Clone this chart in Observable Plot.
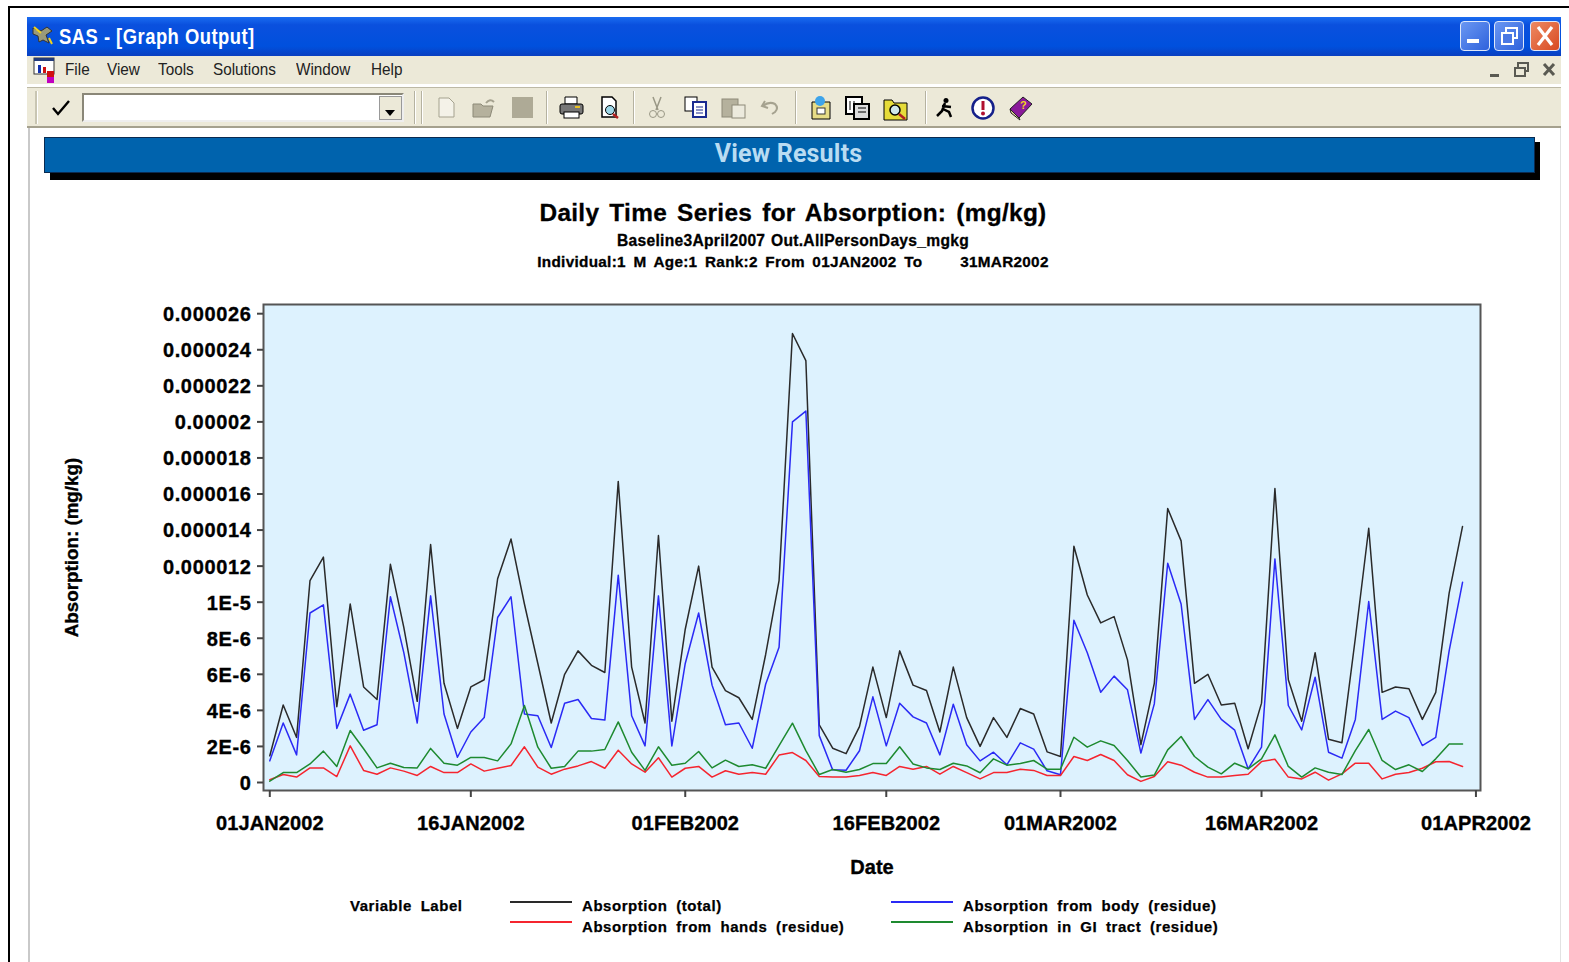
<!DOCTYPE html>
<html><head><meta charset="utf-8">
<script src="https://cdn.jsdelivr.net/npm/d3@7"></script>
<script src="https://cdn.jsdelivr.net/npm/@observablehq/plot@0.6"></script>
<style>
html,body{margin:0;padding:0;background:#fff;width:1569px;height:962px;overflow:hidden}
#page{position:relative;width:1569px;height:962px;overflow:hidden;font-family:"Liberation Sans",Arial,sans-serif}
#page>*{position:absolute}
.t{white-space:pre;color:#000;font-weight:700;letter-spacing:.2px}
.menu{font:17px "Liberation Sans";color:#222;top:60px;white-space:pre;transform:scaleX(.9);transform-origin:left top}
#chart{left:0;top:190px}
#chart text{fill:#000;stroke:#000;stroke-width:.35px}
#chart g[aria-label="y-axis tick label"] text{letter-spacing:.65px;translate:0 1px}
#chart g[aria-label="x-axis tick label"] text{letter-spacing:.1px}
#chart g[aria-label="y-axis label"] text{font-size:18.8px}
</style></head><body>
<div id="page"></div>
<script>
const startDate = "2002-01-01";
const total = [1.48,4.3,2.5,11.2,12.5,4.2,9.9,5.3,4.6,12.1,8.6,4.5,13.2,5.5,3.0,5.3,5.7,11.3,13.5,9.9,6.6,3.3,6.0,7.3,6.5,6.1,16.7,6.4,3.3,13.7,3.4,8.5,12.0,6.4,5.1,4.7,3.5,7.1,11.2,24.9,23.4,3.2,1.9,1.6,3.1,6.4,3.6,7.3,5.4,5.1,2.8,6.4,3.6,2.0,3.6,2.5,4.1,3.8,1.7,1.44,13.1,10.4,8.85,9.2,6.8,2.1,5.5,15.2,13.4,5.5,6.0,4.3,4.4,1.87,4.4,16.3,5.7,3.4,7.2,2.4,2.2,8.0,14.1,5.0,5.3,5.2,3.5,5.0,10.5,14.2];
const body = [1.2,3.3,1.53,9.4,9.85,3.0,4.9,2.9,3.2,10.3,7.2,3.3,10.35,3.8,1.4,2.8,3.6,9.15,10.3,3.8,3.7,1.94,4.4,4.6,3.55,3.46,11.5,3.7,2.03,10.35,2.03,6.6,9.4,5.4,3.2,3.3,1.9,5.45,7.5,20.0,20.6,2.6,0.7,0.68,1.76,4.75,2.03,4.4,3.64,3.3,1.53,4.34,2.09,1.2,1.68,0.98,2.2,1.85,0.65,0.43,9.0,7.2,5.0,5.9,5.14,1.63,4.36,12.16,9.9,3.5,4.6,3.5,2.9,0.76,1.96,12.4,4.27,2.92,5.84,1.68,1.35,3.5,10.04,3.5,3.96,3.6,2.05,2.5,7.3,11.1];
const hands = [0.15,0.44,0.3,0.81,0.81,0.33,2.03,0.67,0.46,0.81,0.63,0.39,0.89,0.55,0.55,1.03,0.63,0.79,0.94,1.98,0.85,0.46,0.74,0.92,1.16,0.79,1.79,1.03,0.57,1.37,0.3,0.79,0.89,0.3,0.65,0.46,0.55,0.46,1.52,1.66,1.22,0.33,0.31,0.31,0.39,0.55,0.39,0.89,0.74,0.89,0.46,0.89,0.55,0.2,0.55,0.55,0.74,0.67,0.39,0.39,1.44,1.22,1.55,1.22,0.43,0.06,0.33,1.15,0.96,0.57,0.3,0.3,0.39,0.46,1.16,1.29,0.3,0.2,0.57,0.13,0.48,1.07,1.07,0.2,0.46,0.55,0.79,1.15,1.16,0.89];
const gi = [0.07,0.55,0.55,1.03,1.74,0.89,2.88,1.87,0.81,1.07,0.83,0.81,1.89,1.07,0.96,1.39,1.39,1.2,2.14,4.27,1.96,0.79,0.89,1.74,1.74,1.83,3.36,1.68,0.67,1.98,0.96,1.07,1.72,0.81,1.24,0.89,0.98,0.79,2.05,3.29,1.77,0.44,0.72,0.57,0.72,1.05,1.05,1.98,1.03,0.81,0.72,1.07,0.92,0.54,1.31,0.96,1.05,1.22,0.74,0.74,2.51,1.96,2.31,2.05,1.22,0.3,0.41,1.81,2.55,1.44,0.85,0.48,1.07,0.76,1.31,2.64,0.89,0.3,0.81,0.57,0.44,1.77,2.94,1.22,0.72,0.98,0.61,1.31,2.14,2.14];
const seriesNames = ["Absorption (total)","Absorption from body (residue)","Absorption from hands (residue)","Absorption in GI tract (residue)"];
const seriesColors = ["#2a2a2a","#2a2af5","#f5252f","#1e8a30"];
const yTickValues = [0,2,4,6,8,10,12,14,16,18,20,22,24,26];
const yTickLabels = ["0","2E-6","4E-6","6E-6","8E-6","1E-5","0.000012","0.000014","0.000016","0.000018","0.00002","0.000022","0.000024","0.000026"];
const xTickDates = ["2002-01-01","2002-01-16","2002-02-01","2002-02-16","2002-03-01","2002-03-16","2002-04-01"];
const xTickLabels = ["01JAN2002","16JAN2002","01FEB2002","16FEB2002","01MAR2002","16MAR2002","01APR2002"];
const menus = [["File",65],["View",107],["Tools",158],["Solutions",213],["Window",296],["Help",371]];

const DAY = 864e5, t0 = Date.parse(startDate);
const rows = [total,body,hands,gi].flatMap((vals,s)=>vals.map((v,i)=>({date:new Date(t0+i*DAY),value:v*1e-6,series:seriesNames[s]})));
const xDates = xTickDates.map(d=>new Date(d));

const plot = Plot.plot({
  width:1569, height:772,
  marginLeft:263, marginRight:89, marginTop:114, marginBottom:172,
  style:{fontFamily:'"Liberation Sans",Arial,sans-serif',fontSize:"20px",fontWeight:700,background:"transparent",overflow:"visible"},
  x:{type:"utc",domain:[new Date(t0-0.47*DAY),new Date(t0+90.34*DAY)]},
  y:{domain:[-0.444e-6,26.51e-6]},
  color:{domain:seriesNames,range:seriesColors},
  marks:[
    Plot.frame({fill:"#ddf2fe"}),
    Plot.line(rows,{x:"date",y:"value",z:"series",stroke:"series",strokeWidth:1.5,curve:"linear"}),
    Plot.frame({stroke:"#555",strokeWidth:2}),
    Plot.axisX({ticks:xDates,tickFormat:d=>xTickLabels[xDates.findIndex(e=>+e===+d)],tickSize:7,tickPadding:18,stroke:"#444",strokeWidth:2,
      label:"Date",labelAnchor:"center",labelOffset:83,labelArrow:"none"}),
    Plot.axisY({ticks:yTickValues.map(v=>v*1e-6),tickFormat:(d,i)=>yTickLabels[i],tickSize:6,tickPadding:6,stroke:"#444",strokeWidth:2,
      label:"Absorption: (mg/kg)",labelAnchor:"center",labelOffset:199,labelArrow:"none"})
  ]
});
plot.id="chart";
const page=document.getElementById("page");
page.appendChild(plot);

function box(x,y,w,h,css=""){const d=document.createElement("div");d.style.cssText=`position:absolute;left:${x}px;top:${y}px;width:${w}px;height:${h}px;${css}`;page.appendChild(d);return d;}
function text(str,x,y,css="",cls="t"){const d=document.createElement("div");d.className=cls;d.textContent=str;d.style.cssText=`left:${x}px;top:${y}px;${css}`;page.appendChild(d);return d;}
function icon(x,y,w,h,inner){const d=box(x,y,w,h);d.innerHTML=`<svg width="${w}" height="${h}" viewBox="0 0 ${w} ${h}">${inner}</svg>`;}

/* outer frame */
box(8,6,1561,2,"background:#000");
box(8,6,2,956,"background:#000");
box(28,128,2,834,"background:#c9c9c9");
box(1560,128,1,834,"background:#e2e2e2");
/* title bar */
box(27,17,1534,39,"background:linear-gradient(#1a6cf0 0,#0a50de 20%,#0050dd 75%,#0a3fc0 100%)");
text("SAS - [Graph Output]",59,24,'font:700 22px "Liberation Sans";color:#fff;letter-spacing:.6px;transform:scaleX(.835);transform-origin:left top');
icon(31,25,24,22,'<path d="M2 3l8 3 6-4 5 4-6 4 3 8-6-3-4 2-1-6-5-2z" fill="#9a9a7a" stroke="#333"/><path d="M3 2l7 6M18 13l3 6" stroke="#f2d21c" stroke-width="2"/>');
[[1460,"linear-gradient(135deg,#6a97f2,#2f62dc)","min"],[1494,"linear-gradient(135deg,#6a97f2,#2f62dc)","max"],[1530,"linear-gradient(135deg,#ee8a62,#d84a22)","close"]].forEach(([x,c,k])=>{
  box(x,21,30,30,`box-sizing:border-box;border:1px solid #dfe8fa;border-radius:4px;background:${c}`);
  if(k=="min")box(x+7,39,12,4,"background:#fff");
  if(k=="max")icon(x+6,26,20,20,'<rect x="6" y="2" width="11" height="10" fill="none" stroke="#fff" stroke-width="2"/><rect x="2" y="7" width="11" height="11" fill="#4a78e4" stroke="#fff" stroke-width="2"/>');
  if(k=="close")icon(x+5,26,20,20,'<path d="M3 1l14 18M17 1L3 19" stroke="#fff" stroke-width="3.2"/>');
});
/* menu bar */
box(27,56,1534,28,"background:#ece9d8");
box(27,84,1534,3,"background:#fff");
icon(33,57,24,26,'<rect x="1" y="1" width="20" height="16" fill="#fff" stroke="#333"/><rect x="1" y="1" width="20" height="3" fill="#223a7a"/><rect x="5" y="8" width="3" height="8" fill="#1030b0"/><rect x="10" y="10" width="3" height="6" fill="#d01010"/><rect x="14" y="14" width="7" height="6" fill="#d01010"/><rect x="14" y="20" width="7" height="6" fill="#c000c0"/>');
menus.forEach(([m,x])=>text(m,x,60,"", "menu"));
box(1490,74,9,3,"background:#5a5a52");
icon(1513,61,17,17,'<rect x="5" y="2" width="10" height="8" fill="none" stroke="#5a5a52" stroke-width="2"/><rect x="2" y="7" width="10" height="8" fill="#ece9d8" stroke="#5a5a52" stroke-width="2"/>');
icon(1542,62,15,15,'<path d="M2 2l10 11M12 2L2 13" stroke="#5a5a52" stroke-width="3"/>');
/* toolbar */
box(27,87,1534,41,"box-sizing:border-box;background:#ece9d8;border-top:1px solid #bdb9a5;border-bottom:2px solid #a5a18e");
box(35,91,2,33,"background:#c8c5b2");box(37,91,1,33,"background:#fff");
icon(51,99,20,17,'<path d="M2 9l5 6L18 2" fill="none" stroke="#000" stroke-width="2.4"/>');
box(82,93,322,29,"box-sizing:border-box;background:#fff;border:2px solid;border-color:#8a8778 #eee #eee #8a8778");
box(379,96,23,24,"box-sizing:border-box;background:#ece9d8;border:1px solid #999");
icon(385,104,12,8,'<path d="M0 0h10l-5 6z" fill="#000"/>');
[414,421,546,633,795,925].forEach(x=>{box(x,91,1,33,"background:#b5b2a0");box(x+1,91,1,33,"background:#fff")});
icon(437,97,20,22,'<path d="M2 1h10l5 5v14H2z" fill="#f4f2e8" stroke="#a5a28f"/>');
icon(471,97,27,22,'<path d="M2 7h8l2 2h10l-3 11H2z" fill="#b5b19d" stroke="#8d8a78"/><path d="M15 6q4-5 8-1" stroke="#a5a28f" fill="none" stroke-width="2"/>');
box(512,97,21,21,"background:#aeaa96");
icon(558,96,27,24,'<path d="M7 1h12v7H7z" fill="#fff" stroke="#000"/><rect x="2" y="8" width="23" height="10" rx="2" fill="#777" stroke="#000"/><rect x="6" y="16" width="15" height="6" fill="#fff" stroke="#000"/><rect x="17" y="10" width="5" height="2" fill="#e8c020"/>');
icon(600,96,24,24,'<path d="M2 1h10l4 4v16H2z" fill="#fff" stroke="#000" stroke-width="1.5"/><circle cx="10" cy="14" r="4.5" fill="#9fd8e8" stroke="#000"/><path d="M13 18l5 4" stroke="#b02020" stroke-width="2.5"/>');
icon(648,96,20,24,'<path d="M5 1l5 13M13 1L8 14" stroke="#9a9886" stroke-width="1.5"/><circle cx="5" cy="18" r="3.5" fill="none" stroke="#9a9886"/><circle cx="13" cy="18" r="3.5" fill="none" stroke="#9a9886"/>');
icon(684,96,26,24,'<rect x="1" y="1" width="12" height="14" fill="#fff" stroke="#000"/><rect x="9" y="6" width="13" height="15" fill="#fff" stroke="#1a2a90" stroke-width="2"/><path d="M12 11h7M12 14h7M12 17h7" stroke="#1a2a90"/>');
icon(720,96,28,24,'<rect x="2" y="3" width="16" height="18" fill="#b5b19d" stroke="#8d8a78"/><rect x="12" y="9" width="13" height="13" fill="#eceadd" stroke="#8d8a78"/>');
icon(760,98,22,20,'<path d="M5 3L2 8l6 2M3 8q6-5 12-2 4 4 0 8l-3 2" fill="none" stroke="#a5a28f" stroke-width="2"/>');
icon(808,95,26,26,'<path d="M4 7h18v17H4z" fill="#e6dc86" stroke="#000"/><rect x="9" y="13" width="8" height="6" fill="#fff" stroke="#333"/><circle cx="12" cy="6" r="5" fill="#3ea4ea"/>');
icon(844,95,28,26,'<rect x="2" y="2" width="16" height="17" fill="#fff" stroke="#000" stroke-width="2"/><rect x="10" y="9" width="15" height="15" fill="#ddd" stroke="#000" stroke-width="2"/><path d="M6 6v9M10 6v9M14 13h8M14 17h8" stroke="#000"/>');
icon(882,96,28,25,'<path d="M2 4h8l2 3h13v17H2z" fill="#e6dc3a" stroke="#000"/><circle cx="13" cy="14" r="5" fill="#cfe7ea" stroke="#000" stroke-width="1.5"/><path d="M17 18l6 5" stroke="#b02020" stroke-width="2.5"/>');
icon(934,97,22,22,'<circle cx="12" cy="3.5" r="2.5"/><path d="M11 6L8 14l-5 5M8 9l9 1M9 12l6 3 2 5" fill="none" stroke="#000" stroke-width="2.5"/>');
icon(970,95,26,26,'<circle cx="13" cy="13" r="10.5" fill="#fff" stroke="#15208a" stroke-width="2.5"/><rect x="11.5" y="6" width="3" height="9" fill="#b01030"/><circle cx="13" cy="18.5" r="2" fill="#b01030"/>');
icon(1007,95,28,26,'<path d="M3 14L16 2l9 7-13 14z" fill="#8a1a9a" stroke="#222"/><path d="M3 14l9 9 1 2-9-7z" fill="#e8d8a0" stroke="#222"/><text x="13" y="14" font-size="11" font-weight="700" fill="#f2d21c" font-family="Liberation Sans">?</text>');
/* banner */
box(50,142,1490,38,"background:#000");
box(44,137,1491,36,"box-sizing:border-box;background:#0063ad;border:1px solid #0a2a50");
text("View Results",43,139,'width:1491px;text-align:center;font:700 25px "Roboto","Liberation Sans";color:#b9dcf2');
/* titles */
const ts=(s,y,sz,ws)=>text(s,0,y,`width:1586px;text-align:center;font-size:${sz}px;word-spacing:${ws}px;letter-spacing:.3px;-webkit-text-stroke:.3px #000`);
ts("Daily Time Series for Absorption: (mg/kg)",199,24.4,3);
ts("Baseline3April2007 Out.AllPersonDays_mgkg",232,15.6,1);
ts("Individual:1 M Age:1 Rank:2 From 01JAN2002 To     31MAR2002",253,15.3,3);
/* legend */
const lg=(s,x,y)=>text(s,x,y,"font-size:15px;word-spacing:4px;letter-spacing:.55px;-webkit-text-stroke:.25px #000");
lg("Variable Label",350,897);
[[510,901,0,897],[891,901,1,897],[510,921,2,918],[891,921,3,918]].forEach(([x,y,i,ty])=>{
  box(x,y,62,1.5,`background:${seriesColors[i]}`);
  lg(seriesNames[i],x+72,ty);
});
</script>
</body></html>
